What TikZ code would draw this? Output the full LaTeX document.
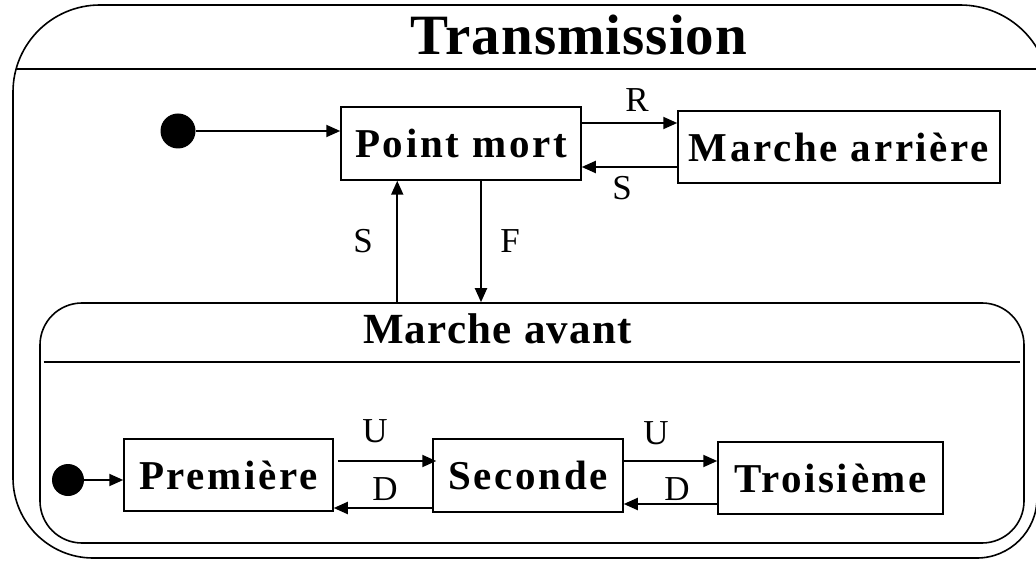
\documentclass[tikz,border=0pt]{standalone}
\usepackage{fontspec}
\setmainfont{Liberation Serif}
\newfontfamily\boxfont[LetterSpace=6.5]{Liberation Serif}
\newfontfamily\headfont[LetterSpace=3]{Liberation Serif}
\newfontfamily\titlefont[LetterSpace=1.8]{Liberation Serif}
\usetikzlibrary{arrows.meta}
\begin{document}
\begin{tikzpicture}[x=1pt,y=-1pt,
  statebox/.style={draw,line width=1.5pt,rectangle,inner sep=0pt,font=\boxfont\fontsize{41}{48}\selectfont\bfseries},
  superstate/.style={draw,line width=1.6pt},
  initdot/.style={circle,fill=black,inner sep=0pt,minimum size=35pt},
  arr/.style={line width=2pt,-{Triangle[length=14pt,width=12pt]}},
  lbl/.style={font=\fontsize{35}{40}\selectfont,inner sep=0pt}]
\useasboundingbox (0,0) rectangle (1036,561);
% outer superstate (its right side runs past the picture's edge)
\draw[superstate] (13,92) .. controls (13,44) and (52,5) .. (100,5)
  -- (960,5) .. controls (1010,5) and (1050,45) .. (1050,95)
  -- (1037,498) .. controls (1037,531) and (1010,558) .. (977,558)
  -- (93,558) .. controls (49,558) and (13,522) .. (13,478) -- cycle;
\draw[line width=1.5pt] (16,69) -- (1045,69);
\node[font=\titlefont\fontsize{57}{60}\selectfont\bfseries,anchor=base] (ttl) at (579,55) {Transmission};
% inner superstate
\node[superstate,rectangle,inner sep=0pt,rounded corners=42pt,minimum width=984pt,minimum height=240pt] (mav) at (532,423) {};
\draw[line width=1.5pt] (43.6,362) -- (1020.4,362);
\node[font=\headfont\fontsize{43}{48}\selectfont\bfseries,anchor=base] (mavt) at (497.5,343) {Marche avant};
% states
\node[statebox,minimum width=240pt,minimum height=73pt] (pm) at (461,143.5) {Point mort};
\node[statebox,minimum width=322pt,minimum height=72pt] (ma) at (839,147) {Marche arrière};
\node[statebox,minimum width=209pt,minimum height=72pt] (pr) at (228.5,475) {Première};
\node[statebox,minimum width=190pt,minimum height=73pt] (se) at (528,475.5) {Seconde};
\node[statebox,minimum width=225pt,minimum height=72pt] (tz) at (830.5,478) {Troisième};
% initial states
\node[initdot] (i1) at (178,131) {};
\node[initdot,minimum size=32pt] (i2) at (68,480) {};
\draw[arr] (i1.east) -- (i1.east -| pm.west);
\draw[arr] (i2.east) -- (i2.east -| pr.west);
% transitions
\draw[arr] ([yshift=20.5pt]pm.east) -- ([yshift=20.5pt]pm.east -| ma.west);
\draw[arr] ([yshift=-20pt]ma.west) -- ([yshift=-20pt]ma.west -| pm.east);
\draw[arr] ([xshift=57pt]pm.south west |- mav.north) -- ([xshift=57pt]pm.south west);
\draw[arr] ([xshift=20pt]pm.south) -- ([xshift=20pt]pm.south |- mav.north);
\draw[arr] ([yshift=14pt,xshift=4pt]pr.east) -- ([yshift=14pt,xshift=4pt]pr.east -| se.west);
\draw[arr] ([yshift=-32.5pt]se.west) -- ([yshift=-32.5pt]se.west -| pr.east);
\draw[arr] ([yshift=14.5pt]se.east) -- ([yshift=14.5pt]se.east -| tz.west);
\draw[arr] ([yshift=-26pt]tz.west) -- ([yshift=-26pt]tz.west -| se.east);
% labels
\node[lbl] (lR) at (637,100) {R};
\node[lbl] (lS1) at (622,188) {S};
\node[lbl] (lS2) at (363,241) {S};
\node[lbl] (lF) at (510,241) {F};
\node[lbl] (lU1) at (375,431) {U};
\node[lbl] (lD1) at (385,489) {D};
\node[lbl] (lU2) at (656,433) {U};
\node[lbl] (lD2) at (677,489) {D};
\end{tikzpicture}
\end{document}
